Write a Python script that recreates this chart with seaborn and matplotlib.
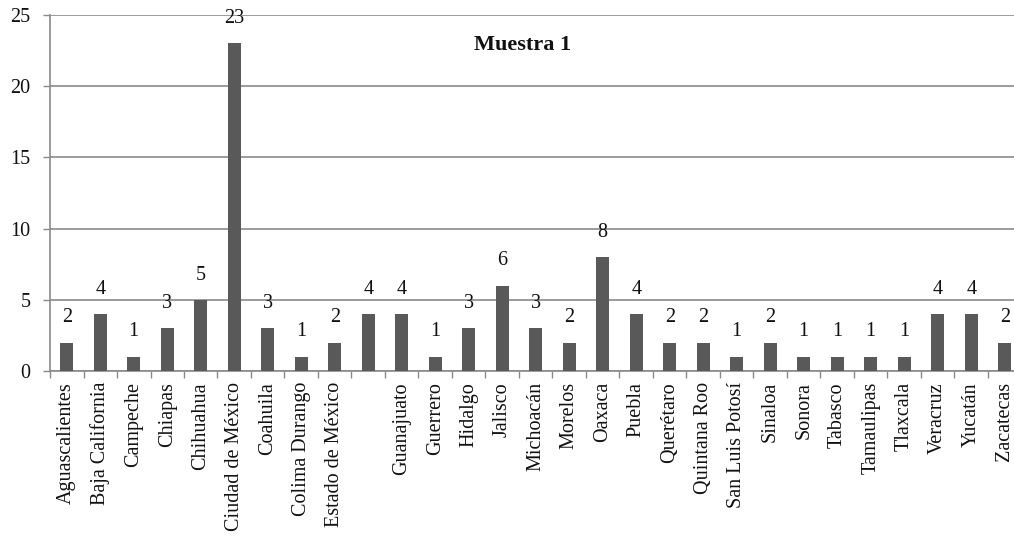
import matplotlib
matplotlib.use("Agg")
import matplotlib.pyplot as plt
import seaborn as sns
import numpy as np
import pandas as pd

categories = ["Aguascalientes", "Baja California", "Campeche", "Chiapas", "Chihuahua",
              "Ciudad de México", "Coahuila", "Colima Durango", "Estado de México", " ",
              "Guanajuato", "Guerrero", "Hidalgo", "Jalisco", "Michoacán", "Morelos",
              "Oaxaca", "Puebla", "Querétaro", "Quintana Roo", "San Luis Potosí", "Sinaloa",
              "Sonora", "Tabasco", "Tamaulipas", "Tlaxcala", "Veracruz", "Yucatán", "Zacatecas"]
values = [2, 4, 1, 3, 5, 23, 3, 1, 2, 4, 4, 1, 3, 6, 3, 2, 8, 4, 2, 2, 1, 2, 1, 1, 1, 1, 4, 4, 2]
yticks = [0, 5, 10, 15, 20, 25]
title = "Muestra 1"

sns.set_theme(style="white")
plt.rcParams['font.family'] = ['Liberation Serif', 'DejaVu Serif']

df = pd.DataFrame({"estado": categories, "n": values})

fig = plt.figure(figsize=(10.14, 5.36), dpi=100)
slot = 33.5
ax = fig.add_axes([50/1014, 1 - 371/536, 29*slot/1014, 356/536])

sns.barplot(data=df, x="estado", y="n", order=categories, color="#595959",
            width=0.4, saturation=1, ax=ax, zorder=3)
for p in ax.patches:
    p.set_edgecolor("none")

FS = 14.5
ax.bar_label(ax.containers[0], fmt="%d", padding=11, fontsize=FS, color="#111111")

ax.set_ylim(0, 25)
ax.set_xlim(-0.5, 28.5)
ax.set_yticks(yticks)
ax.set_yticklabels([str(t) for t in yticks], fontsize=FS, color="#111111")
ax.yaxis.grid(True, color="#8a8a8a", linewidth=1.2, zorder=0)
ax.set_axisbelow(True)

ax.set_xticks(range(len(categories)))
ax.set_xticklabels(categories, rotation=90, fontsize=FS, color="#111111")
ax.set_xticks(np.arange(-0.5, 29, 1), minor=True)
ax.tick_params(axis="x", which="major", length=0, pad=8)
ax.tick_params(axis="x", which="minor", length=5, width=1, color="#8a8a8a", direction="out", bottom=True)
ax.tick_params(axis="y", length=5, width=1, color="#8a8a8a", direction="out", left=True, pad=9)

ax.set_xlabel("")
ax.set_ylabel("")
for s in ["top", "right"]:
    ax.spines[s].set_visible(False)
for s in ["left", "bottom"]:
    ax.spines[s].set_color("#8a8a8a")
    ax.spines[s].set_linewidth(1.2)

fig.text(523/1014, 1 - 45/536, title, fontsize=16, fontweight="bold",
         ha="center", va="center", color="#111111")

fig.savefig("out.png", dpi=100)
